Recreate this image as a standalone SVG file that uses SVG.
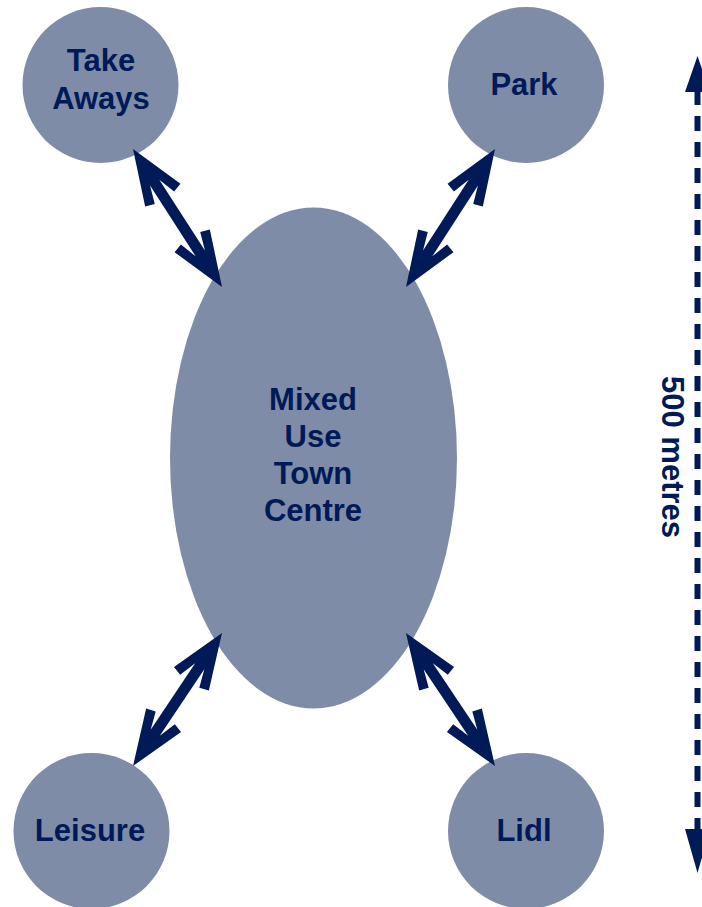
<svg xmlns="http://www.w3.org/2000/svg" xmlns:xlink="http://www.w3.org/1999/xlink" width="702" height="907" viewBox="0 0 702 907">
  <style>
    .node { fill: #7F8CA8; }
    .label { font-family: "Liberation Sans", Arial, sans-serif; font-weight: bold; font-size: 31px; fill: #001A57; text-anchor: middle; }
    .link { fill: #001A57; }
    .scale { stroke: #001A57; stroke-width: 6; stroke-dasharray: 15 11; fill: none; }
  </style>
  <defs>
    <!-- double-headed block arrows laid out along +x, tip at origin -->
    <path id="dbl164" d="M0,0 L55,-21 L58,-11.5 L40,-5.5 L124.2,-5.5 L106.2,-11.5 L109.2,-21 L164.2,0 L109.2,21 L106.2,11.5 L124.2,5.5 L40,5.5 L58,11.5 L55,21 Z"/>
    <path id="dbl160" d="M0,0 L55,-21 L58,-11.5 L40,-5.5 L120,-5.5 L102,-11.5 L105,-21 L160,0 L105,21 L102,11.5 L120,5.5 L40,5.5 L58,11.5 L55,21 Z"/>
  </defs>

  <rect width="702" height="907" fill="#FFFFFF"/>

  <g id="take-aways">
    <circle class="node" cx="100.5" cy="85" r="78"/>
    <text class="label" x="101" y="71">Take</text>
    <text class="label" x="101" y="109">Aways</text>
  </g>

  <g id="park">
    <circle class="node" cx="526" cy="85" r="78"/>
    <text class="label" x="524" y="95">Park</text>
  </g>

  <g id="town-centre">
    <ellipse class="node" cx="313.5" cy="458" rx="143.5" ry="250.5"/>
    <text class="label" x="313" y="410">Mixed</text>
    <text class="label" x="313" y="447">Use</text>
    <text class="label" x="313" y="484">Town</text>
    <text class="label" x="313" y="521">Centre</text>
  </g>

  <g id="leisure">
    <circle class="node" cx="91.5" cy="831" r="78"/>
    <text class="label" x="90" y="841">Leisure</text>
  </g>

  <g id="lidl">
    <circle class="node" cx="526" cy="831" r="78"/>
    <text class="label" x="524" y="841">Lidl</text>
  </g>

  <g id="connectors">
    <use class="link" xlink:href="#dbl164" transform="translate(133,149) rotate(57.18)"/>
    <use class="link" xlink:href="#dbl164" transform="translate(495,149) rotate(122.82)"/>
    <use class="link" xlink:href="#dbl160" transform="translate(133,766) rotate(-56.2)"/>
    <use class="link" xlink:href="#dbl160" transform="translate(495,766) rotate(-123.8)"/>
  </g>

  <g id="scale-bar">
    <line class="scale" x1="697.5" y1="90" x2="697.5" y2="830"/>
    <polygon fill="#001A57" points="697.5,56 685,92 710,92"/>
    <polygon fill="#001A57" points="697.5,873 685,829 710,829"/>
    <text class="label" transform="translate(662,457) rotate(90)">500 metres</text>
  </g>
</svg>
